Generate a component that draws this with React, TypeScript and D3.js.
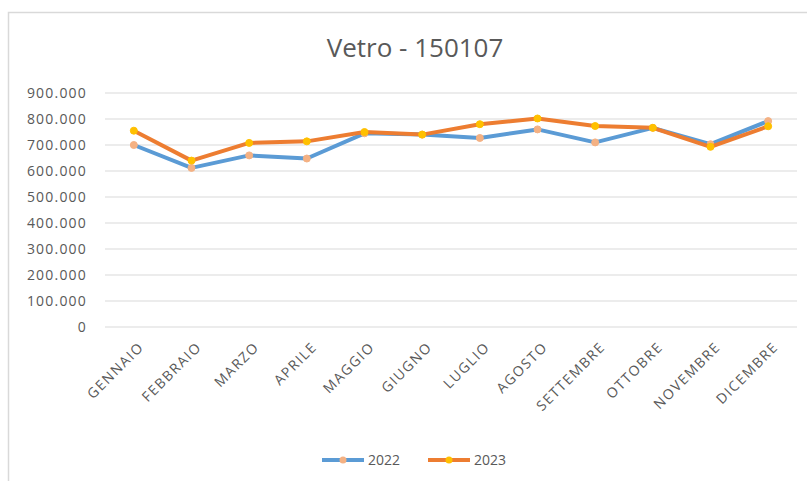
import React from "react";
import * as d3 from "d3";

const months = ["GENNAIO","FEBBRAIO","MARZO","APRILE","MAGGIO","GIUGNO","LUGLIO","AGOSTO","SETTEMBRE","OTTOBRE","NOVEMBRE","DICEMBRE"];
const values2022 = [700000, 612000, 660000, 648000, 745000, 740000, 727000, 760000, 710000, 766000, 703000, 792000];
const values2023 = [755000, 640000, 708000, 714000, 750000, 740000, 780000, 802000, 773000, 766000, 693000, 772000];
const yTicks = [0, 100000, 200000, 300000, 400000, 500000, 600000, 700000, 800000, 900000];
const seriesNames = ["2022", "2023"];

const W = 807, H = 481;
const font = "'Open Sans', 'Liberation Sans', sans-serif";
const textColor = "#595959";

export default function App() {
  const x = d3.scaleBand<string>().domain(months).range([105, 797]);
  const y = d3.scaleLinear().domain([0, 900000]).range([327, 93]);
  const fmt = (v: number) => d3.format(",")(v).replace(/,/g, ".");
  const line = d3.line<number>()
    .x((_, i) => (x(months[i]) as number) + x.bandwidth() / 2)
    .y(d => y(d));
  const series = [
    { name: seriesNames[0], data: values2022, color: "#5B9BD5", marker: "#F4B183" },
    { name: seriesNames[1], data: values2023, color: "#ED7D31", marker: "#FFC000" },
  ];
  const legendX = [322, 428];
  return (
    <svg width={W} height={H} style={{ position: "absolute", left: 0, top: 0 }} fontFamily={font}>
      <rect x={0} y={0} width={W} height={H} fill="#fff" />
      <path d={`M8.5,${H} V12.5 H${W}`} fill="none" stroke="#D9D9D9" strokeWidth={1.5} />
      <text x={415} y={57} textAnchor="middle" fontSize={26} fill={textColor}>Vetro - 150107</text>
      {yTicks.map(t => (
        <g key={t}>
          <line x1={x.range()[0]} x2={x.range()[1]} y1={y(t)} y2={y(t)} stroke="#D9D9D9" strokeWidth={1} />
          <text x={87} y={y(t)} dy="0.35em" textAnchor="end" fontSize={14} letterSpacing={1.2} fill={textColor}>{fmt(t)}</text>
        </g>
      ))}
      {months.map(m => {
        const cx = (x(m) as number) + x.bandwidth() / 2 + 4;
        return (
          <text key={m} transform={`translate(${cx},${341}) rotate(-45)`} textAnchor="end" dy="0.7em" fontSize={14} letterSpacing={1.5} fill={textColor}>{m}</text>
        );
      })}
      {series.map(s => (
        <g key={s.name}>
          <path d={line(s.data) || ""} fill="none" stroke={s.color} strokeWidth={4} strokeLinejoin="round" strokeLinecap="round" />
          {s.data.map((v, i) => (
            <circle key={i} cx={(x(months[i]) as number) + x.bandwidth() / 2} cy={y(v)} r={3.5} fill={s.marker} stroke={s.marker} />
          ))}
        </g>
      ))}
      {series.map((s, i) => (
        <g key={"lg" + s.name}>
          <line x1={legendX[i]} x2={legendX[i] + 42} y1={460} y2={460} stroke={s.color} strokeWidth={4} />
          <circle cx={legendX[i] + 21} cy={460} r={3.5} fill={s.marker} />
          <text x={legendX[i] + 46} y={460} dy="0.35em" fontSize={14} fill={textColor}>{s.name}</text>
        </g>
      ))}
    </svg>
  );
}
